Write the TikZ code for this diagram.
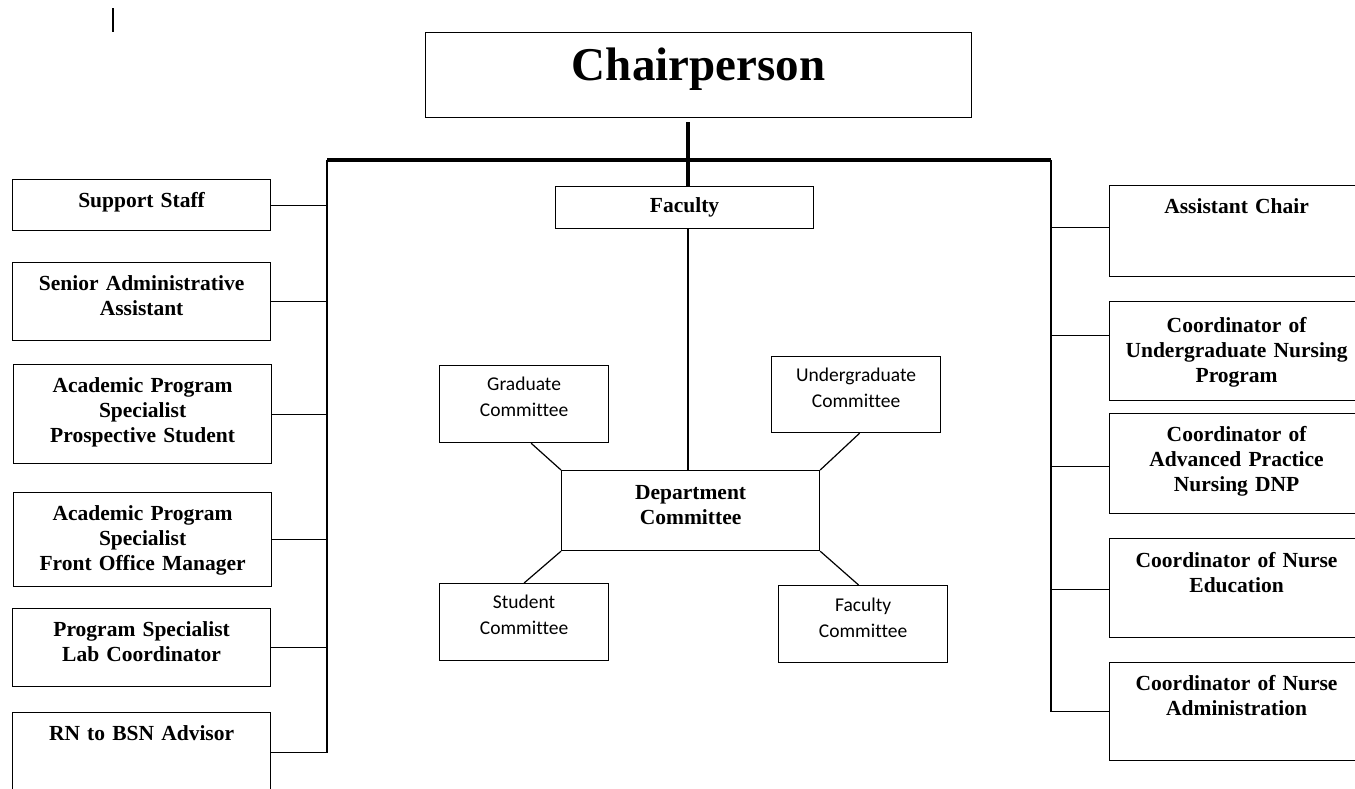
\documentclass[tikz,border=0pt]{standalone}
\usepackage{fontspec}
\setmainfont{Liberation Serif}
\newfontfamily\calfont[Ligatures=NoCommon]{Carlito}
\usetikzlibrary{positioning}

\begin{document}
\begin{tikzpicture}[x=1pt,y=-1pt,line width=1.2pt,
  staff/.style={draw,anchor=north west,align=center,inner xsep=0pt,inner ysep=13pt,
    text height=15pt,font=\fontsize{21.5}{25}\selectfont\bfseries},
  lbox/.style={staff,text width=258pt},
  rbox/.style={staff,text width=254pt},
  cbox/.style={draw,anchor=north west,align=center,inner xsep=0pt,inner ysep=10pt,
    text height=15pt,text width=169pt,font=\calfont\fontsize{19.5}{26}\selectfont},
  trunk/.style={line width=3.5pt}]
  \useasboundingbox (0,0) rectangle (1355,788);
  \fill[white] (0,0) rectangle (1355,788);
  \clip (0,0) rectangle (1355,788);

  \node (chair) [staff,text width=546pt,inner ysep=15pt,text height=33pt,text depth=22pt,
    font=\fontsize{47}{50}\selectfont\bfseries] at (425,32) {Chairperson};
  \node (fac) [lbox,inner ysep=11pt,text depth=5pt] at (555,186) {Faculty};
  \node (dc)  [lbox,inner ysep=14pt,text depth=37pt] at (561,470) {Department\\Committee};

  % left column
  \node (ss)  [lbox,text depth=10pt] at (12,179) {Support Staff};
  \node (sa)  [lbox,text depth=37pt] at (12,262) {Senior Administrative\\Assistant};
  \node (aps) [lbox,text depth=58pt] at (13,364) {Academic Program\\Specialist\\Prospective Student};
  \node (apf) [lbox,text depth=53pt] at (13,492) {Academic Program\\Specialist\\Front Office Manager};
  \node (psl) [lbox,text depth=37pt] at (12,608) {Program Specialist\\Lab Coordinator};
  \node (rn)  [lbox,text depth=39pt] at (12,712) {RN to BSN Advisor};

  % right column
  \node (ac) [rbox,text depth=50pt] at (1109,185) {Assistant Chair};
  \node (cu) [rbox,inner ysep=16pt,text depth=52pt] at (1109,301) {Coordinator of\\Undergraduate Nursing\\Program};
  \node (ca) [rbox,text depth=59pt] at (1109,413) {Coordinator of\\Advanced Practice\\Nursing DNP};
  \node (ce) [rbox,inner ysep=14pt,text depth=56pt] at (1109,538) {Coordinator of Nurse\\Education};
  \node (cn) [rbox,text depth=57pt] at (1109,662) {Coordinator of Nurse\\Administration};

  % committees
  \node (gc) [cbox,text depth=42pt] at (439,365) {Graduate\\Committee};
  \node (uc) [cbox,text depth=41pt] at (771,356) {Undergraduate\\Committee};
  \node (sc) [cbox,text depth=42pt] at (439,583) {Student\\Committee};
  \node (fc) [cbox,inner ysep=11pt,text depth=40pt] at (778,585) {Faculty\\Committee};

  \coordinate (top) at (688,122);
  \coordinate (barL) at (327,160);
  \coordinate (barR) at (1051,160);

  \draw (113,8) -- (113,32);
  \draw[trunk] (top) -- (top |- fac.north);
  \draw[trunk] (barL) -- (barR);
  \foreach \n in {ss,sa,aps,apf,psl,rn}
    \draw (\n.east) -| (barL);
  \foreach \n/\s in {ac/3.5,cu/15.5,ca/-3,ce/-1.5,cn/0}
    \draw ([yshift=\s pt]\n.west) -| (barR);
  \draw (top |- fac.south) -- (top |- dc.north);
  \path ([xshift=7pt]gc.south) edge (dc.north west)
        ([xshift=3.5pt]uc.south) edge (dc.north east)
        (sc.north) edge (dc.south west)
        ([xshift=-4.5pt]fc.north) edge (dc.south east);
\end{tikzpicture}
\end{document}
